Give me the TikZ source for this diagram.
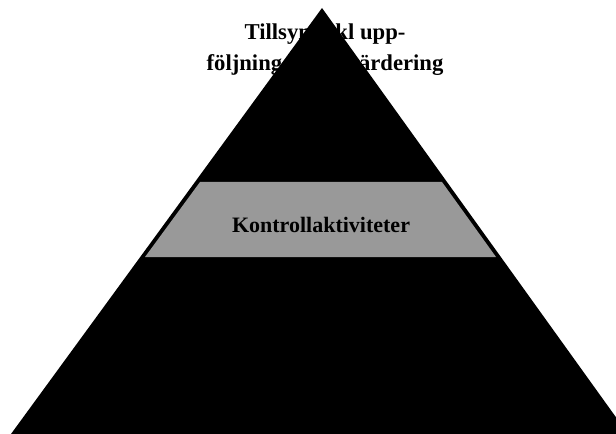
\documentclass[tikz,border=0pt]{standalone}
\usepackage{fontspec}
\setmainfont{Liberation Serif}
\tikzset{
  rubrik/.style={font=\bfseries\fontsize{17}{23.25}\selectfont, align=center, anchor=base},
  bandtext/.style={font=\bfseries\fontsize{16.5}{20}\selectfont, anchor=base}
}
\begin{document}
\begin{tikzpicture}[x=0.75pt,y=-0.75pt]
  % ram (bildpunkter)
  \useasboundingbox (0,0) rectangle (616,434);
  \clip (0,0) rectangle (616,434);

  % rubriken ligger bakom spetsen (base = sista raden)
  \node[rubrik] (tillsyn) at (325,71) {Tillsyn inkl upp-\\följning och utvärdering};

  % pyramiden
  \coordinate (topp) at (322,8);
  \coordinate (vbas) at (11,434);
  \coordinate (hbas) at (628,434);
  \fill[black] (topp) -- (vbas) -- (hbas) -- cycle;

  % mittbandet
  \fill[black!40] (200,182) -- (442,182) -- (496,257) -- (145,257) -- cycle;
  \node[bandtext] (kontroll) at (321,233) {Kontrollaktiviteter};
\end{tikzpicture}
\end{document}
